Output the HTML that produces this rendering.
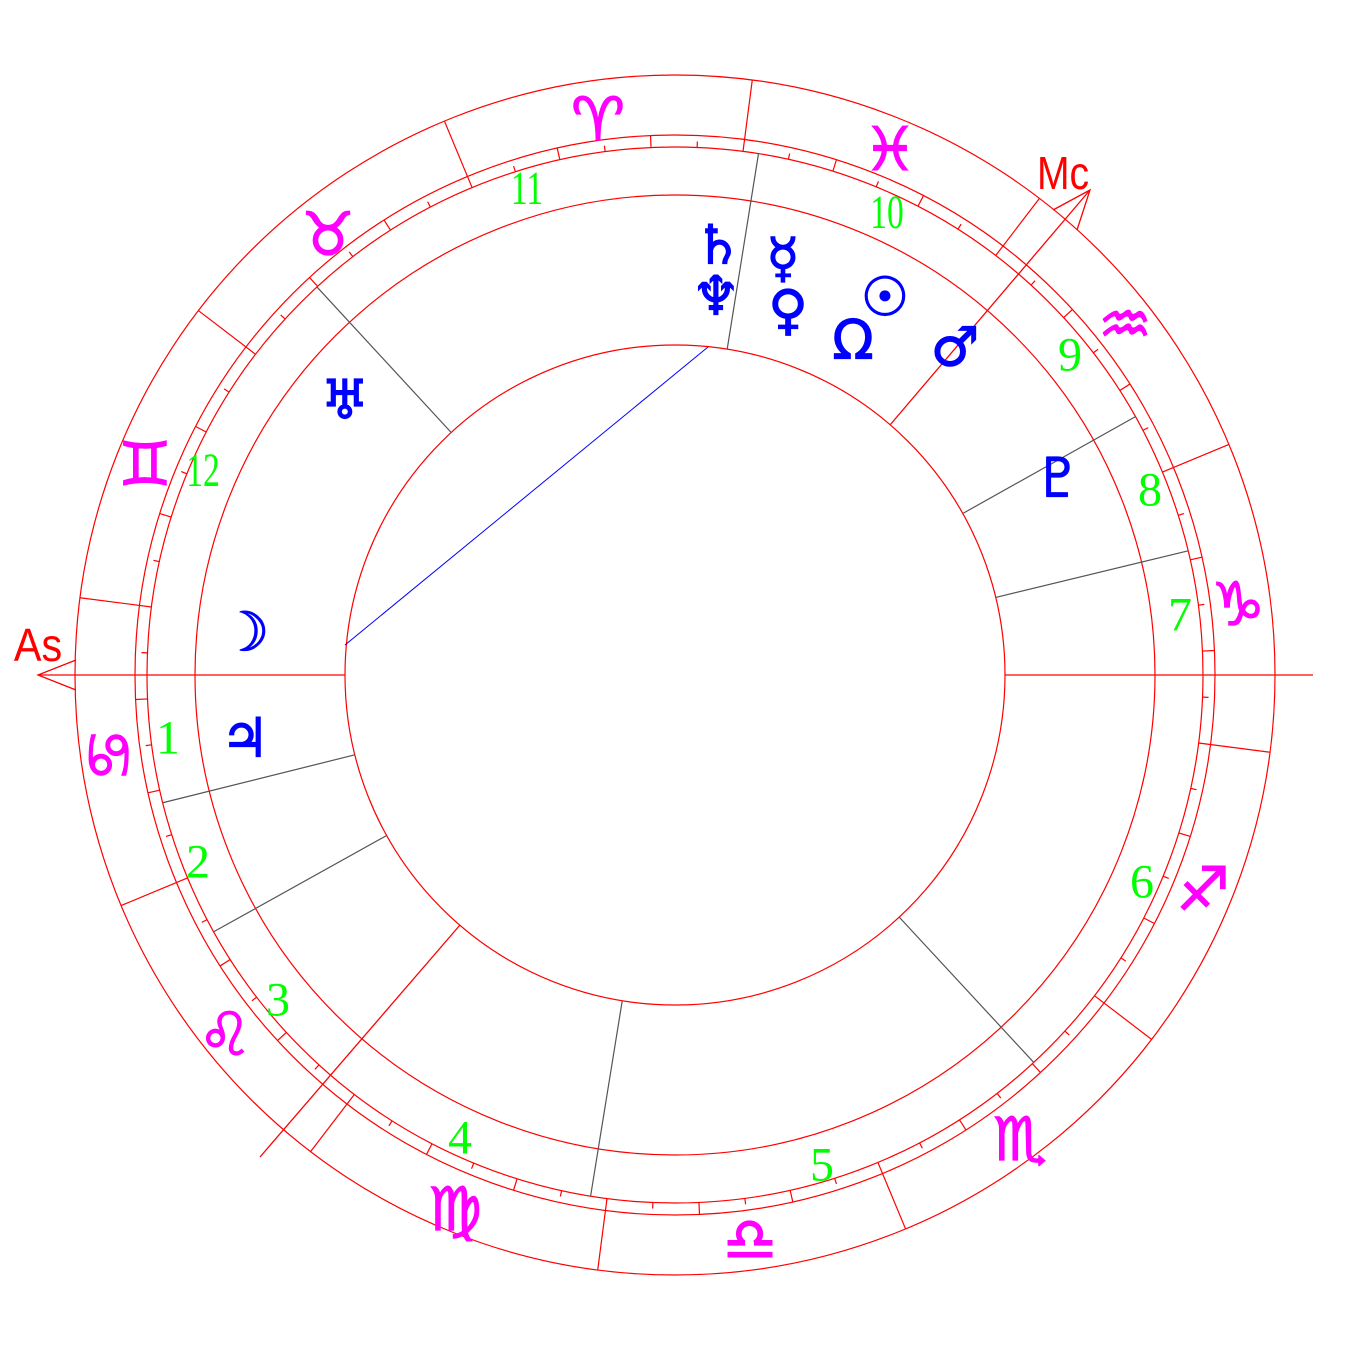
<!DOCTYPE html>
<html><head><meta charset="utf-8"><style>
html,body{margin:0;padding:0;background:#fff;width:1350px;height:1350px;overflow:hidden}
svg{display:block}
.z{font-family:"DejaVu Sans",sans-serif;fill:#ff00ff;stroke:#ff00ff;stroke-width:1.2;font-size:60px;text-anchor:middle;dominant-baseline:central}
.h{font-family:"Liberation Serif",serif;fill:#00ff00;font-size:48px;text-anchor:middle;dominant-baseline:central}
.p{font-family:"DejaVu Sans",sans-serif;fill:#0000ff;stroke:#0000ff;stroke-width:1.2;font-size:54px;text-anchor:middle;dominant-baseline:central}
</style></head><body>
<svg id="s" width="1350" height="1350" viewBox="0 0 1350 1350" xmlns="http://www.w3.org/2000/svg">
<g fill="none" stroke="#ff0000" stroke-width="1.2">
<circle cx="675" cy="675" r="600"/>
<circle cx="675" cy="675" r="540"/>
<circle cx="675" cy="675" r="528"/>
<circle cx="675" cy="675" r="480"/>
<circle cx="675" cy="675" r="330"/>
</g>
<g id="zb" stroke="#ff0000" stroke-width="1.2"></g>
<g id="tk" stroke="#ff0000" stroke-width="1.2"></g>
<g stroke="#555" stroke-width="1.2">
<line x1="1005" y1="675" x2="1203" y2="675" transform="rotate(-194 675 675)"/>
<line x1="1005" y1="675" x2="1203" y2="675" transform="rotate(-209.1 675 675)"/>
<line x1="1005" y1="675" x2="1203" y2="675" transform="rotate(-260.8 675 675)"/>
<line x1="1005" y1="675" x2="1203" y2="675" transform="rotate(-312.8 675 675)"/>
<line x1="1005" y1="675" x2="1203" y2="675" transform="rotate(-13.6 675 675)"/>
<line x1="1005" y1="675" x2="1203" y2="675" transform="rotate(-29.3 675 675)"/>
<line x1="1005" y1="675" x2="1203" y2="675" transform="rotate(-80.9 675 675)"/>
<line x1="1005" y1="675" x2="1203" y2="675" transform="rotate(-132.7 675 675)"/>
</g>
<g stroke="#ff0000" stroke-width="1.3" fill="none">
<line x1="38" y1="675" x2="345" y2="675"/>
<line x1="1005" y1="675" x2="1313" y2="675"/>
<polyline points="76,660 38,675 76,690"/>
<line x1="260" y1="1157" x2="460" y2="925"/>
<line x1="890" y1="425" x2="1090" y2="190"/>
<polyline points="1053,210 1090,190 1077,230"/>
</g>
<line x1="345" y1="645" x2="708" y2="347" stroke="#0000ff" stroke-width="1"/>
<text x="38" y="646" font-family="Liberation Sans,sans-serif" font-size="46" fill="#ff0000" text-anchor="middle" dominant-baseline="central" transform="translate(38 646) scale(0.9 1) translate(-38 -646)">As</text>
<text x="1063" y="174" font-family="Liberation Sans,sans-serif" font-size="46" fill="#ff0000" text-anchor="middle" dominant-baseline="central" transform="translate(1063 174) scale(0.85 1) translate(-1063 -174)">Mc</text>
<text class="z" x="598" y="120">♈</text>
<text class="z" x="328" y="235">♉</text>
<text class="z" x="145" y="465">♊</text>
<text class="z" x="110" y="755" transform="rotate(-90 110 755)">♋</text>
<text class="z" x="225" y="1035">♌</text>
<text class="z" x="455" y="1210">♍</text>
<text class="z" x="750" y="1240">♎</text>
<text class="z" x="1020" y="1140">♏</text>
<text class="z" x="1203" y="890">♐</text>
<text class="z" x="1238" y="605">♑</text>
<text class="z" x="1125" y="325">♒</text>
<text class="z" x="890" y="150">♓</text>
<text class="h" x="168" y="738">1</text>
<text class="h" x="198" y="862">2</text>
<text class="h" x="278" y="1000">3</text>
<text class="h" x="460" y="1138">4</text>
<text class="h" x="822" y="1165">5</text>
<text class="h" x="1142" y="882">6</text>
<text class="h" x="1180" y="615">7</text>
<text class="h" x="1150" y="490">8</text>
<text class="h" x="1070" y="355">9</text>
<text class="h" x="887" y="212" transform="translate(887 212) scale(0.7 1) translate(-887 -212)">10</text>
<text class="h" x="527" y="188" transform="translate(527 188) scale(0.7 1) translate(-527 -188)">11</text>
<text class="h" x="203" y="470" transform="translate(203 470) scale(0.7 1) translate(-203 -470)">12</text>
<text class="p" x="718" y="245">♄</text>
<text class="p" x="716" y="296">♆</text>
<text class="p" x="783" y="258">☿</text>
<text class="p" x="788" y="310">♀</text>
<text class="p" x="885" y="297">☉</text>
<text class="p" x="853" y="340" font-family="Liberation Serif,serif" font-size="56">Ω</text>
<text class="p" x="955" y="347">♂</text>
<text class="p" x="1058" y="478">♇</text>
<text class="p" x="345" y="400">♅</text>
<text class="p" x="245" y="632">☽</text>
<text class="p" x="245" y="738">♃</text>
</svg>
<script>
var ns="http://www.w3.org/2000/svg";
function ln(g,a,r1,r2){var t=a*Math.PI/180,l=document.createElementNS(ns,"line");
l.setAttribute("x1",675+r1*Math.cos(t));l.setAttribute("y1",675-r1*Math.sin(t));
l.setAttribute("x2",675+r2*Math.cos(t));l.setAttribute("y2",675-r2*Math.sin(t));g.appendChild(l);}
var zb=document.getElementById("zb"),tk=document.getElementById("tk");
for(var k=0;k<12;k++)ln(zb,172.6+30*k,528,600);
for(var k=0;k<72;k++){var a=172.6+5*k;if(k%6==0)continue;if(k%2==0)ln(tk,a,528,540);else ln(tk,a,528,534);}
</script>
</body></html>
